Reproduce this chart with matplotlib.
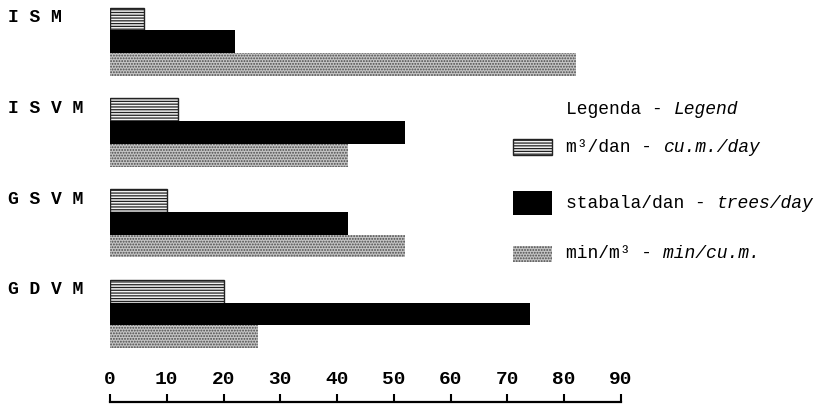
import matplotlib.pyplot as plt
from matplotlib.patches import Rectangle
from matplotlib.offsetbox import TextArea, DrawingArea, HPacker, AnchoredOffsetbox

categories = ["I S M", "I S V M", "G S V M", "G D V M"]
m3_per_day = [6, 12, 10, 20]
trees_per_day = [22, 52, 42, 74]
min_per_m3 = [82, 42, 52, 26]
xticks = [0, 10, 20, 30, 40, 50, 60, 70, 80, 90]

mono = "Liberation Mono"
W, H = 827, 405

plt.rcParams["hatch.linewidth"] = 0.9
style_m3 = dict(facecolor="#f2f2f2", edgecolor="#222222", hatch="------", linewidth=1)
style_trees = dict(facecolor="black", edgecolor="black", linewidth=0)
style_min = dict(facecolor="#c4c4c4", edgecolor="#4a4a4a", hatch="......", linewidth=0)

fig = plt.figure(figsize=(W / 100, H / 100), dpi=100)
ax = fig.add_axes([110 / W, 3 / H, 511 / W, 1 - 3 / H])

pos = list(range(len(categories)))
h = 0.25
ax.barh([p - h for p in pos], m3_per_day, height=h, **style_m3)
ax.barh(pos, trees_per_day, height=h, **style_trees)
ax.barh([p + h for p in pos], min_per_m3, height=h, **style_min)
ax.set_xlim(0, 90)
ax.set_ylim(3.97, -0.46)

for s in ax.spines.values():
    s.set_visible(False)
ax.set_xticks([])
ax.set_yticks([p - h * 1.15 for p in pos], categories)
ax.tick_params(axis="y", length=0, pad=102 * 0.72)
for lbl in ax.get_yticklabels():
    lbl.set_horizontalalignment("left")
    lbl.set_fontfamily(mono)
    lbl.set_fontweight("bold")
    lbl.set_fontsize(13)

# axis line at the bottom, labels above it
ax2 = fig.add_axes([110 / W, 0, 511 / W, 3 / H])
ax2.set_xlim(0, 90)
ax2.set_yticks([])
for k in ["bottom", "left", "right"]:
    ax2.spines[k].set_visible(False)
ax2.spines["top"].set_linewidth(1.6)
ax2.xaxis.tick_top()
ax2.set_xticks(xticks)
ax2.tick_params(axis="x", direction="out", length=6, width=1.5, pad=4, labelsize=14)
for lbl in ax2.get_xticklabels():
    lbl.set_fontfamily(mono)
    lbl.set_fontweight("bold")


# legend, one row at a time
def legend_row(y_px, normal, italic, swatch=None, sw_h=0):
    da = DrawingArea(28, 18, 0, 0)
    if swatch is not None:
        da.add_artist(Rectangle((0, (18 - sw_h) / 2), 28, sw_h, **swatch))
    t1 = TextArea(normal, textprops=dict(family=mono, size=13))
    t2 = TextArea(italic, textprops=dict(family=mono, size=13, style="italic"))
    txt = HPacker(children=[t1, t2], sep=7.8, pad=0, align="baseline")
    row = HPacker(children=[da, txt], sep=10.5, pad=0, align="center")
    box = AnchoredOffsetbox(loc="center left", child=row, pad=0, borderpad=0,
                            frameon=False, bbox_to_anchor=(513 / W, 1 - y_px / H),
                            bbox_transform=fig.transFigure)
    fig.add_artist(box)


legend_row(110, "Legenda -", "Legend")
legend_row(147, "m³/dan -", "cu.m./day", style_m3, 12.2)
legend_row(203, "stabala/dan -", "trees/day", style_trees, 17.3)
legend_row(254, "min/m³ -", "min/cu.m.", style_min, 12.2)

fig.savefig("out.png", dpi=100)
